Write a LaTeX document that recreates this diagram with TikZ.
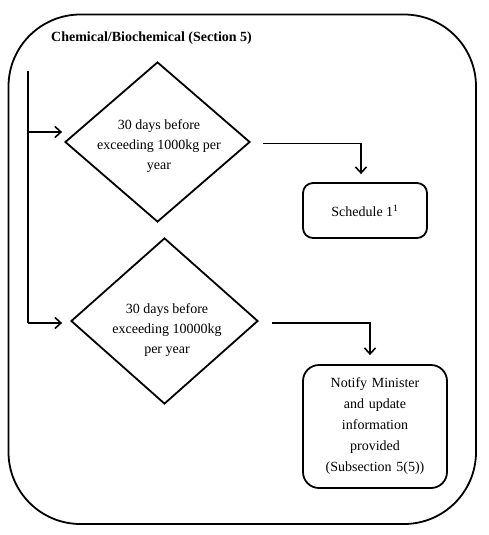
\documentclass[tikz,border=0pt]{standalone}
\usepackage{fontspec}
\setmainfont{Liberation Serif}
\usetikzlibrary{shapes.geometric,arrows.meta}
\begin{document}
\begin{tikzpicture}[x=1pt,y=-1pt,
  every node/.style={font=\fontsize{14}{20}\selectfont},
  frame/.style={draw,line width=1.8pt,rounded corners=72pt},
  dia/.style={draw,shape=diamond,line width=1.8pt,inner sep=0pt,minimum width=#1},
  txt/.style={align=center,inner sep=0pt},
  rbox/.style={draw,line width=1.8pt,align=center,inner sep=0pt},
  arr/.style={line width=1.6pt,-{Straight Barb[length=6pt,width=11pt,line width=1.6pt]}},
  conn/.style={line width=1.6pt}
]
\useasboundingbox (0,0) rectangle (488,535);
\draw[frame] (8.5,14.5) rectangle (476,524);
\node[anchor=west,inner sep=0pt,font=\fontsize{14}{20}\selectfont\bfseries] (title) at (51,38) {Chemical/Biochemical (Section 5)};

\node[dia=185pt,minimum height=160pt] (d1) at (157.5,142) {};
\node[txt] (t1) at (159,146) {30 days before\\exceeding 1000kg per\\year};
\node[dia=187pt,minimum height=166pt] (d2) at (164.5,321) {};
\node[txt] (t2) at (167,330) {30 days before\\exceeding 10000kg\\per year};

\node[rbox,rounded corners=10pt,minimum width=124pt,minimum height=55pt] (s1) at (365,210.5) {Schedule 1\textsuperscript{1}};
\node[rbox,rounded corners=16pt,minimum width=144pt,minimum height=123pt,text width=140pt,font=\fontsize{14}{21}\selectfont] (n1) at (375,426.5) {Notify Minister\\and update\\information\\provided\\(Subsection 5(5))};

\coordinate (vtop) at (28,71);
\coordinate (tipA) at ([shift={(-2pt,10pt)}]d1.west);
\coordinate (tipB) at ([shift={(-8pt,-2pt)}]d2.west);
\draw[conn] (vtop) -- (vtop |- tipB);
\draw[arr] (vtop |- tipA) -- (tipA);
\draw[arr] (vtop |- tipB) -- (tipB);
\draw[arr] ([shift={(12pt,-1.5pt)}]d1.east) -| ([shift={(-4pt,8pt)}]s1.north);
\draw[arr] ([shift={(13pt,-2pt)}]d2.east) -| ([shift={(-5pt,9pt)}]n1.north);
\end{tikzpicture}
\end{document}
